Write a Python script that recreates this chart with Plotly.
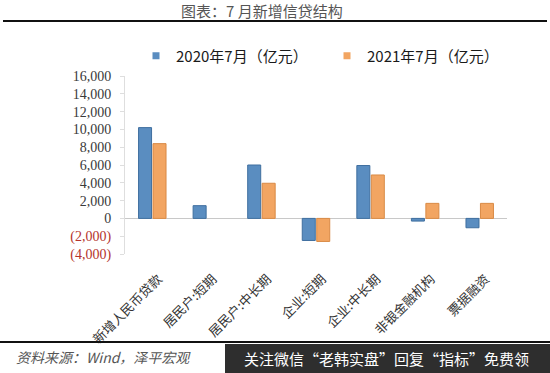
import plotly.graph_objects as go

categories = ["新增人民币贷款", "居民户:短期", "居民户:中长期", "企业:短期", "企业:中长期", "非银金融机构", "票据融资"]
values_2020 = [10200, 1430, 6000, -2480, 5940, -300, -1050]
values_2021 = [8400, None, 3950, -2590, 4880, 1690, 1690]
series_names = ["2020年7月（亿元）", "2021年7月（亿元）"]
tick_vals = [16000, 14000, 12000, 10000, 8000, 6000, 4000, 2000, 0, -2000, -4000]
tick_labels = ["16,000", "14,000", "12,000", "10,000", "8,000", "6,000", "4,000", "2,000", "0", "(2,000)", "(4,000)"]
colors = ["#5a8dc0", "#f2a562"]
edge_colors = ["#3f6f9f", "#d98a45"]

W, H = 550, 373
L, R, T, B = 125, 507, 76, 254

def px(x):
    return (x - L) / (R - L)

def py(y):
    return (B - y) / (B - T)

ticktext = []
for v, t in zip(tick_vals, tick_labels):
    if v < 0:
        ticktext.append(f"<span style='color:#b5332d'>{t}</span>")
    else:
        ticktext.append(t)

fig = go.Figure()
for name, vals, c, ec in zip(series_names, [values_2020, values_2021], colors, edge_colors):
    fig.add_trace(go.Bar(x=categories, y=vals, name=name, showlegend=False, legendgroup=name,
                         marker=dict(color=c, line=dict(color=ec, width=1))))
for name, c in zip(series_names, colors):
    fig.add_trace(go.Scatter(x=[None], y=[None], mode="markers", name=name, legendgroup=name,
                             marker=dict(symbol="square", size=7, color=c)))

fig.update_layout(
    width=W, height=H,
    margin=dict(l=L, r=W - R, t=T, b=H - B, pad=0, autoexpand=False),
    paper_bgcolor="white", plot_bgcolor="white",
    barmode="group", bargap=0.47, bargroupgap=0.1,
    showlegend=True,
    legend=dict(orientation="h", x=px(136), y=py(56), xanchor="left", yanchor="middle",
                font=dict(family="Noto Sans CJK SC", size=15, color="#1a1a1a"),
                bgcolor="rgba(0,0,0,0)", entrywidth=146, itemwidth=30, traceorder="normal",
                tracegroupgap=0),
    font=dict(family="Noto Sans CJK SC", color="#333"),
)

fig.update_yaxes(range=[-4000, 16000], tickvals=tick_vals, ticktext=ticktext, automargin=False,
                 tickfont=dict(family="Liberation Serif", size=14, color="#3a3a3a"),
                 showgrid=False, zeroline=True, zerolinecolor="#c8c8c8", zerolinewidth=1,
                 showline=True, linecolor="#dedede", linewidth=1,
                 ticks="outside", ticklen=4, tickcolor="#dedede",
                 ticklabelstandoff=6)
fig.update_xaxes(tickangle=-45, automargin=False,
                 tickfont=dict(family="Noto Sans CJK SC", size=13, color="#333"),
                 showgrid=False, showline=False, ticks="", ticklabelstandoff=14, ticklabelshift=6)

shapes = [
    dict(type="line", xref="paper", yref="paper", x0=px(3), x1=px(547), y0=py(21), y1=py(21),
         line=dict(color="#111", width=2)),
    dict(type="line", xref="paper", yref="paper", x0=px(0), x1=px(550), y0=py(342), y1=py(342),
         line=dict(color="#111", width=2)),
    dict(type="rect", xref="paper", yref="paper", x0=px(225), x1=px(550), y0=py(344), y1=py(373),
         fillcolor="#2e2e2e", line=dict(width=0)),
]
fig.update_layout(shapes=shapes)

annotations = [
    dict(text="图表：7 月新增信贷结构", xref="paper", yref="paper", x=px(262), y=py(10),
         xanchor="center", yanchor="middle", showarrow=False,
         font=dict(family="Noto Sans CJK SC", size=15, color="#555")),
    dict(text="<i>资料来源：Wind，泽平宏观</i>", xref="paper", yref="paper", x=px(14), y=py(357),
         xanchor="left", yanchor="middle", showarrow=False,
         font=dict(family="Noto Sans CJK SC", size=14, color="#555")),
    dict(text="关注微信“老韩实盘”回复“指标”免费领", xref="paper", yref="paper", x=px(386), y=py(358),
         xanchor="center", yanchor="middle", showarrow=False,
         font=dict(family="Noto Sans CJK SC", size=15, color="#ffffff")),
]
fig.update_layout(annotations=annotations)

fig.write_html("out.html", config={"displayModeBar": False},
               post_script="document.body.style.margin='0';document.body.style.padding='0';")
